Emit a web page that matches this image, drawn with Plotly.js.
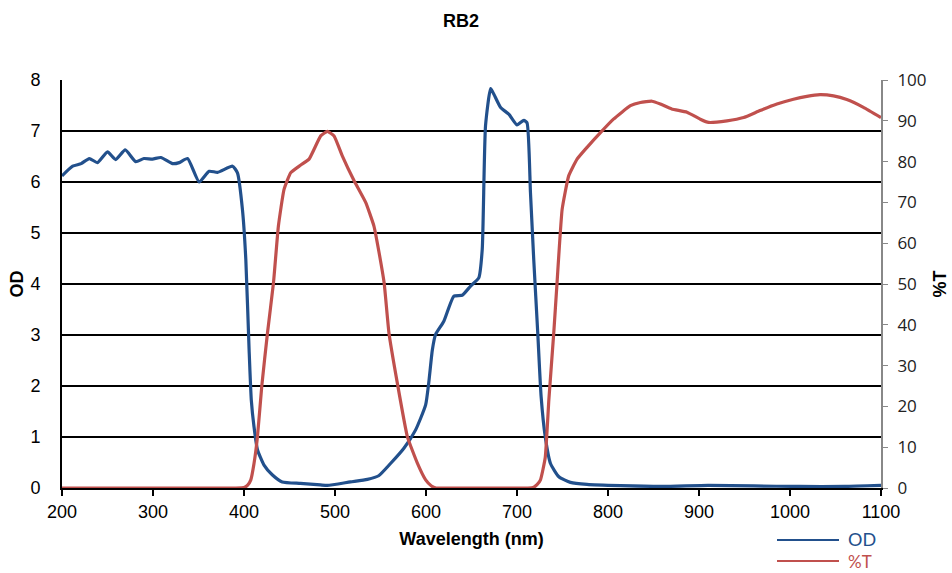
<!DOCTYPE html>
<html>
<head>
<meta charset="utf-8">
<script src="https://cdn.plot.ly/plotly-3.0.1.min.js"></script>
<style>html,body{margin:0;padding:0;background:#fff;}#chart{width:952px;height:573px;}</style>
</head>
<body>
<div id="chart"></div>
<script>
// OD curve (blue, left axis)
var odWavelength = [200, 211.7, 221, 230, 239, 250, 259, 269.5, 281, 290, 299.5, 308.7, 321.5, 328.8, 338, 350.7, 361.7, 371, 387.4, 392.8, 398.3, 402, 405.6, 408, 411, 414.8, 422, 431, 442, 462, 484, 491.6, 517, 535.6, 548, 561, 575.7, 588.6, 599.6, 603, 607, 610.5, 619.6, 630.6, 639.8, 649, 658, 661.8, 665.4, 671, 674.6, 682, 691, 700, 707.5, 711, 714.8, 718.4, 722.8, 726.5, 731, 736.8, 746, 758.7, 777, 813.6, 860, 910, 960, 1010, 1060, 1100];
var odValues = [6.12, 6.31, 6.36, 6.46, 6.38, 6.59, 6.44, 6.63, 6.40, 6.46, 6.45, 6.48, 6.36, 6.38, 6.46, 6.00, 6.21, 6.19, 6.31, 6.18, 5.46, 4.48, 2.71, 1.73, 1.20, 0.75, 0.45, 0.26, 0.12, 0.09, 0.06, 0.05, 0.12, 0.17, 0.24, 0.48, 0.78, 1.14, 1.63, 2.06, 2.71, 3.01, 3.27, 3.76, 3.78, 3.96, 4.12, 4.68, 7.10, 7.83, 7.72, 7.46, 7.33, 7.12, 7.21, 7.16, 5.79, 4.48, 3.04, 1.79, 1.01, 0.48, 0.22, 0.11, 0.07, 0.045, 0.03, 0.05, 0.04, 0.03, 0.03, 0.05];

// %T curve (red, right axis)
var tWavelength = [200, 300, 390, 400, 404, 407.5, 411, 414.8, 419.5, 425.8, 432.4, 437.8, 444, 451.4, 462, 471.5, 484.3, 491.6, 499, 508, 521, 533.7, 542.8, 549, 554, 559.3, 568.5, 579.5, 590.5, 599.6, 606, 611, 620, 660, 700, 712, 718.4, 722, 725.8, 731, 735, 740.4, 744, 749.6, 756.8, 766, 777, 791.7, 806, 824.6, 835.6, 848.4, 857.5, 870, 886.8, 901.4, 910.5, 930.7, 949, 967, 985.6, 1003.8, 1018.5, 1033, 1047.8, 1062.4, 1080.7, 1100];
var tValues = [0, 0, 0, 0.1, 0.7, 2, 6, 12.6, 24.9, 38, 50.3, 64.2, 73.2, 77.3, 79.1, 80.6, 86.3, 87.4, 86.3, 81.4, 75.3, 70, 64.2, 57, 50.3, 38, 25.7, 12.6, 6.1, 2, 0.5, 0, 0, 0, 0, 0, 0.2, 0.8, 2, 7.4, 21.6, 38, 50.3, 68.3, 76.5, 80.6, 83.5, 87.1, 90.4, 93.7, 94.5, 94.8, 94.1, 92.9, 92.1, 90.4, 89.6, 90, 90.8, 92.5, 94.1, 95.3, 96, 96.4, 96.1, 95.2, 93.3, 90.8];

var xTicks = [200, 300, 400, 500, 600, 700, 800, 900, 1000, 1100];
var seriesNames = ['OD', '%T'];
var blue = '#22508C', red = '#C0504D';

var traces = [
  {x: odWavelength, y: odValues, name: seriesNames[0], type: 'scatter', mode: 'lines',
   line: {color: blue, width: 3.2, shape: 'spline', smoothing: 0.5}, yaxis: 'y', showlegend: false},
  {x: tWavelength, y: tValues, name: seriesNames[1], type: 'scatter', mode: 'lines',
   line: {color: red, width: 3.2, shape: 'spline', smoothing: 0.4}, yaxis: 'y2', showlegend: false}
];

function px2x(p) { return (p - 62) / 819; }
function py2y(p) { return (488 - p) / 408; }

var layout = {
  width: 952, height: 573,
  margin: {l: 62, r: 71, t: 80, b: 85},
  paper_bgcolor: '#fff', plot_bgcolor: '#fff',
  font: {family: 'Liberation Sans, Arial, sans-serif', size: 18, color: '#000'},
  title: {text: '<b>RB2</b>', x: 461/952, xanchor: 'center', y: 1 - 21/573, yanchor: 'middle',
          font: {family: 'Liberation Sans, Arial, sans-serif', size: 18, color: '#000'}},
  xaxis: {range: [200, 1100], tickvals: xTicks, ticktext: xTicks.map(String),
          showline: true, linecolor: '#000', linewidth: 2, ticks: 'outside', ticklen: 6, tickwidth: 1.5, tickcolor: '#000',
          showgrid: false, zeroline: false, tickfont: {size: 18},
          title: {text: '<b>Wavelength (nm)</b>', standoff: 12, font: {size: 18}}},
  yaxis: {range: [0, 8], dtick: 1, showline: true, linecolor: '#000', linewidth: 2,
          showgrid: true, gridcolor: '#000', gridwidth: 2, zeroline: false, ticks: '', ticklabelstandoff: 16,
          tickfont: {size: 18},
          title: {text: '<b>OD</b>', standoff: 2, font: {size: 18}}},
  yaxis2: {range: [0, 100], dtick: 10, overlaying: 'y', side: 'right', showline: true, linecolor: '#888', linewidth: 2,
           ticks: 'outside', ticklen: 5, tickcolor: '#888', tickwidth: 1, showgrid: false, zeroline: false,
           ticklabelstandoff: 6,
           tickfont: {family: 'Open Sans, sans-serif', size: 17, color: '#222'},
           title: {text: '<b>%T</b>', standoff: 8, font: {size: 18}}},
  shapes: [
    {type: 'line', xref: 'paper', yref: 'paper', x0: px2x(777), x1: px2x(839), y0: py2y(540), y1: py2y(540), line: {color: blue, width: 2}},
    {type: 'line', xref: 'paper', yref: 'paper', x0: px2x(777), x1: px2x(839), y0: py2y(561), y1: py2y(561), line: {color: red, width: 2}}
  ],
  annotations: [
    {xref: 'paper', yref: 'paper', x: px2x(846), y: py2y(539), xanchor: 'left', yanchor: 'middle', showarrow: false,
     text: seriesNames[0], font: {family: 'Lato, sans-serif', size: 18, color: blue}},
    {xref: 'paper', yref: 'paper', x: px2x(846), y: py2y(561), xanchor: 'left', yanchor: 'middle', showarrow: false,
     text: seriesNames[1], font: {family: 'Lato, sans-serif', size: 17, color: red}}
  ]
};

Plotly.newPlot('chart', traces, layout, {staticPlot: true, displayModeBar: false});
</script>
</body>
</html>
